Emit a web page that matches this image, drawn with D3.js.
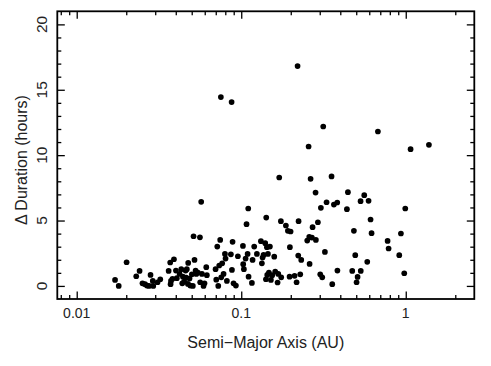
<!doctype html>
<html lang="en">

<head>
    <meta charset="utf-8">
    <title>delta duration vs semi-major axis</title>
    <script src="https://cdn.jsdelivr.net/npm/d3@7"></script>
    <style>
        body {
            margin: 0;
            background: #ffffff;
        }

        svg text {
            font-family: "Liberation Sans", Arial, Helvetica, sans-serif;
            fill: #222;
        }
    </style>
</head>

<body>
    <svg></svg>
    <script>
        // semi-major axis (AU) and change in transit duration (hours)
        var semiMajor = [
            0.0171, 0.0180, 0.0201, 0.0230, 0.0241, 0.0251, 0.0260, 0.0267, 0.0275, 0.0281,
            0.0290, 0.0292, 0.0310, 0.0322, 0.0362, 0.0370, 0.0372, 0.0374, 0.0382, 0.0390,
            0.0401, 0.0406, 0.0422, 0.0432, 0.0438, 0.0442, 0.0450, 0.0459, 0.0463, 0.0467,
            0.0476, 0.0474, 0.0485, 0.0490, 0.0501, 0.0508, 0.0513, 0.0520, 0.0528, 0.0533,
            0.0545, 0.0561, 0.0563, 0.0571, 0.0577, 0.0590, 0.0598, 0.0613, 0.0618, 0.0698,
            0.0705, 0.0715, 0.0725, 0.0735, 0.0745, 0.0752, 0.0756, 0.0766, 0.0781, 0.0796,
            0.0803, 0.0818, 0.0865, 0.0874, 0.0878, 0.0886, 0.0898, 0.0928, 0.0954, 0.1024,
            0.1028, 0.1038, 0.1063, 0.1077, 0.1093, 0.1103, 0.1108, 0.1161, 0.1172, 0.1199,
            0.1245, 0.1317, 0.1335, 0.1348, 0.1367, 0.1399, 0.1413, 0.1419, 0.1432, 0.1439,
            0.1453, 0.1473, 0.1494, 0.1515, 0.1543, 0.1587, 0.1609, 0.1663, 0.1679, 0.1702,
            0.1742, 0.1750, 0.1868, 0.1921, 0.1967, 0.1976, 0.1995, 0.2110, 0.2170, 0.2200,
            0.2221, 0.2231, 0.2284, 0.2316, 0.2519, 0.2567, 0.2591, 0.2603, 0.2640, 0.2689,
            0.2714, 0.2830, 0.2843, 0.2924, 0.3021, 0.3049, 0.3107, 0.3151, 0.3225, 0.3301,
            0.3540, 0.3574, 0.3658, 0.3833, 0.3842, 0.4389, 0.4451, 0.4729, 0.4840, 0.4932,
            0.5025, 0.5096, 0.5314, 0.5327, 0.5593, 0.5834, 0.5943, 0.6111, 0.6197, 0.6772,
            0.7755, 0.7865, 0.9131, 0.9346, 0.9792, 0.9931, 1.070, 1.383
        ];
        var deltaDuration = [
            0.46, 0, 1.81, 0.74, 1.15, 0.2, 0.13, 0.03, 0, 0.84,
            0.38, 0, 0.28, 0.51, 1.15, 1.79, 0.13, 0.38, 0.54, 2.04,
            1.17, 0.59, 0.92, 1.28, 0.2, 0.71, 0.33, 1.17, 0.64, 1.28,
            1.76, 0.15, 0.56, 0.03, 0.89, 0, 3.80, 1.99, 1.17, 0.92,
            1.02, 3.72, 0.28, 6.43, 0.92, 0, 0.2, 1.43, 0.82, 1.28,
            0.48, 3.01, 0, 1.56, 3.52, 14.44, 0.66, 1.73, 0.92, 2.45,
            2.09, 0.38, 2.42, 14.06, 1.22, 3.37, 0.2, 0.03, 2.27, 3.06,
            1.66, 1.28, 2.09, 4.72, 2.45, 5.92, 0.71, 0.23, 1.99, 3.01,
            2.45, 3.42, 1.73, 2.17, 2.37, 3.27, 0.51, 5.23, 2.96, 0.84,
            2.45, 1.02, 3.01, 0.46, 0.82, 2.24, 1.10, 0.26, 0.92, 8.29,
            4.95, 0.66, 4.62, 4.21, 0.71, 2.96, 4.16, 0.77, 0.28, 16.81,
            2.32, 4.95, 0.89, 1.99, 3.47, 10.66, 3.75, 1.68, 8.19, 3.70,
            4.49, 7.14, 3.52, 4.87, 0.89, 5.97, 0.66, 12.19, 2.60, 6.40,
            8.37, 0.13, 6.22, 6.38, 1.17, 5.87, 7.17, 1.15, 4.21, 2.35,
            0.28, 0.69, 6.48, 1.15, 6.94, 1.84, 6.51, 5.08, 4.03, 11.81,
            3.44, 2.86, 2.35, 4.01, 0.97, 5.92, 10.46, 10.79
        ];

        var xTickValues = [0.01, 0.1, 1];
        var xTickLabels = ["0.01", "0.1", "1"];
        var yTickValues = [0, 5, 10, 15, 20];
        var yTickLabels = ["0", "5", "10", "15", "20"];

        var width = 491;
        var height = 366;
        var plotLeft = 57.3, plotRight = 474.3, plotTop = 11.3, plotBottom = 299;

        var svg = d3.select('svg').attr("width", width).attr("height", height);

        var xScale = d3.scaleLog()
            .domain([0.00762, 2.61])
            .range([plotLeft, plotRight]);

        var yScale = d3.scaleLinear()
            .domain([-1, 21])
            .range([plotBottom, plotTop]);

        // minor ticks: every integer on y, 2..9 of each decade on x
        var xMinor = xScale.ticks().filter(function (d) { return xTickValues.indexOf(d) < 0; });
        var yMinor = d3.range(0, 21).filter(function (d) { return d % 5 !== 0; });

        function drawTicks(axis, transform) {
            svg.append("g")
                .attr("transform", transform)
                .call(axis)
                .call(function (g) { g.select(".domain").remove(); })
                .call(function (g) { g.selectAll("line").attr("stroke", "#000").attr("stroke-width", 1.3); });
        }

        // ticks point inward on all four sides
        drawTicks(d3.axisBottom(xScale).tickValues(xMinor).tickSize(-4).tickFormat(""), "translate(0," + plotBottom + ")");
        drawTicks(d3.axisBottom(xScale).tickValues(xTickValues).tickSize(-7.5).tickFormat(""), "translate(0," + plotBottom + ")");
        drawTicks(d3.axisTop(xScale).tickValues(xMinor).tickSize(-4).tickFormat(""), "translate(0," + plotTop + ")");
        drawTicks(d3.axisTop(xScale).tickValues(xTickValues).tickSize(-7.5).tickFormat(""), "translate(0," + plotTop + ")");
        drawTicks(d3.axisLeft(yScale).tickValues(yMinor).tickSize(-4).tickFormat(""), "translate(" + plotLeft + ",0)");
        drawTicks(d3.axisLeft(yScale).tickValues(yTickValues).tickSize(-7.5).tickFormat(""), "translate(" + plotLeft + ",0)");
        drawTicks(d3.axisRight(yScale).tickValues(yMinor).tickSize(-4).tickFormat(""), "translate(" + plotRight + ",0)");
        drawTicks(d3.axisRight(yScale).tickValues(yTickValues).tickSize(-7.5).tickFormat(""), "translate(" + plotRight + ",0)");

        svg.append("rect")
            .attr("x", plotLeft)
            .attr("y", plotTop)
            .attr("width", plotRight - plotLeft)
            .attr("height", plotBottom - plotTop)
            .attr("fill", "none")
            .attr("stroke", "#000")
            .attr("stroke-width", 1.8);

        // tick labels
        svg.selectAll("text.xlab")
            .data(xTickValues)
            .enter()
            .append("text")
            .attr("class", "xlab")
            .attr("x", function (d) { return xScale(d); })
            .attr("y", 318)
            .attr("text-anchor", "middle")
            .attr("font-size", "14px")
            .text(function (d, i) { return xTickLabels[i]; });

        svg.selectAll("text.ylab")
            .data(yTickValues)
            .enter()
            .append("text")
            .attr("class", "ylab")
            .attr("transform", function (d) { return "translate(47," + yScale(d) + ") rotate(-90)"; })
            .attr("text-anchor", "middle")
            .attr("font-size", "15.5px")
            .text(function (d, i) { return yTickLabels[i]; });

        // axis titles
        svg.append("text")
            .attr("x", (plotLeft + plotRight) / 2)
            .attr("y", 348)
            .attr("text-anchor", "middle")
            .attr("font-size", "16px")
            .text("Semi\u2212Major Axis (AU)");

        svg.append("text")
            .attr("transform", "translate(27," + 160 + ") rotate(-90)")
            .attr("text-anchor", "middle")
            .attr("font-size", "16px")
            .text("\u0394 Duration (hours)");

        // points
        svg.selectAll("circle")
            .data(semiMajor)
            .enter()
            .append("circle")
            .attr("cx", function (d) { return xScale(d); })
            .attr("cy", function (d, i) { return yScale(deltaDuration[i]); })
            .attr("r", 2.85)
            .attr("fill", "#000");
    </script>

</body>

</html>
